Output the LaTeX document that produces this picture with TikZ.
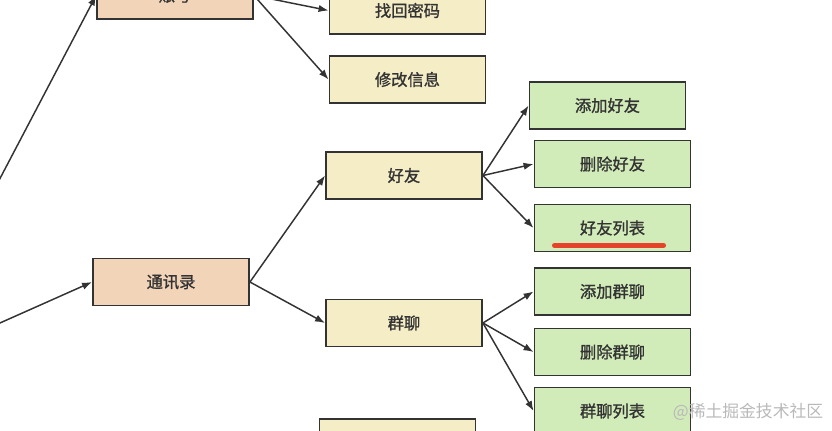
\documentclass[tikz,border=0pt]{standalone}
\usepackage{fontspec}
\setmainfont{Noto Sans CJK SC}
\newfontfamily\boxfont{Noto Sans CJK SC}[FakeBold=1.2]
\usepackage{tikz}
\usepackage{color}
\usetikzlibrary{calc}
\usetikzlibrary{arrows.meta}
\definecolor{orangebox}{HTML}{F2D5B8}
\definecolor{yellowbox}{HTML}{F5EDC6}
\definecolor{greenbox}{HTML}{D1EBB9}
\definecolor{edgegray}{HTML}{333333}
\definecolor{marker}{HTML}{E5432A}

\begin{document}
\begin{tikzpicture}[x=0.75pt,y=-0.75pt,
box/.style={draw=edgegray, line width=1.4pt, minimum width=117pt, minimum height=35.3pt, inner sep=0pt, text=edgegray, font=\boxfont\fontsize{12.2}{14}\selectfont},
ob/.style={box, fill=orangebox},yb/.style={box, fill=yellowbox},gb/.style={box, fill=greenbox},
ar/.style={-{Latex[length=7.5pt,width=5.5pt]}, draw=edgegray, line width=1.1pt}]
\useasboundingbox (0,0) rectangle (832,430);
\clip (0,0) rectangle (832,430);
\coordinate (root) at (-99,367);
% first level
\node (account) at (175,-4.5) [ob] {账号};
\node (contacts) at (171,282) [ob] {通讯录};
\draw[ar] (root) -- (account.west);
\draw[ar] (root) -- (contacts.west);
% account
\node (findpwd) at (407.5,10.5) [yb] {找回密码};
\node (editinfo) at (407.5,79.5) [yb] {修改信息};
\draw[ar] (account.east) -- (findpwd.west);
\draw[ar] (account.east) -- (editinfo.west);
% contacts
\node (friend) at (404,175.5) [yb] {好友};
\node (group) at (404,323) [yb] {群聊};
\node (nextbox) at (397.5,442.5) [yb] {};
\draw[ar] (contacts.east) -- (friend.west);
\draw[ar] (contacts.east) -- (group.west);
% friend
\node (addfriend) at (607.5,105.5) [gb] {添加好友};
\node (delfriend) at (612.5,164) [gb] {删除好友};
\node (friendlist) at (612.5,228) [gb] {好友列表};
\foreach \c in {addfriend, delfriend, friendlist} {
\draw[ar] (friend.east) -- (\c.west);
}
\draw[marker, line width=3.8pt, line cap=round] ($(friendlist.south)+(-58,-7)$) -- ($(friendlist.south)+(51,-7)$);
% group
\node (addgroup) at (612.5,291.5) [gb] {添加群聊};
\node (delgroup) at (612.5,352) [gb] {删除群聊};
\node (grouplist) at (612.5,411) [gb] {群聊列表};
\foreach \c in {addgroup, delgroup, grouplist} {
\draw[ar] (group.east) -- (\c.west);
}
\node (watermark) at (748,412) [text=gray!55, font=\fontsize{12.6}{14}\selectfont] {@稀土掘金技术社区};
\end{tikzpicture}
\end{document}
